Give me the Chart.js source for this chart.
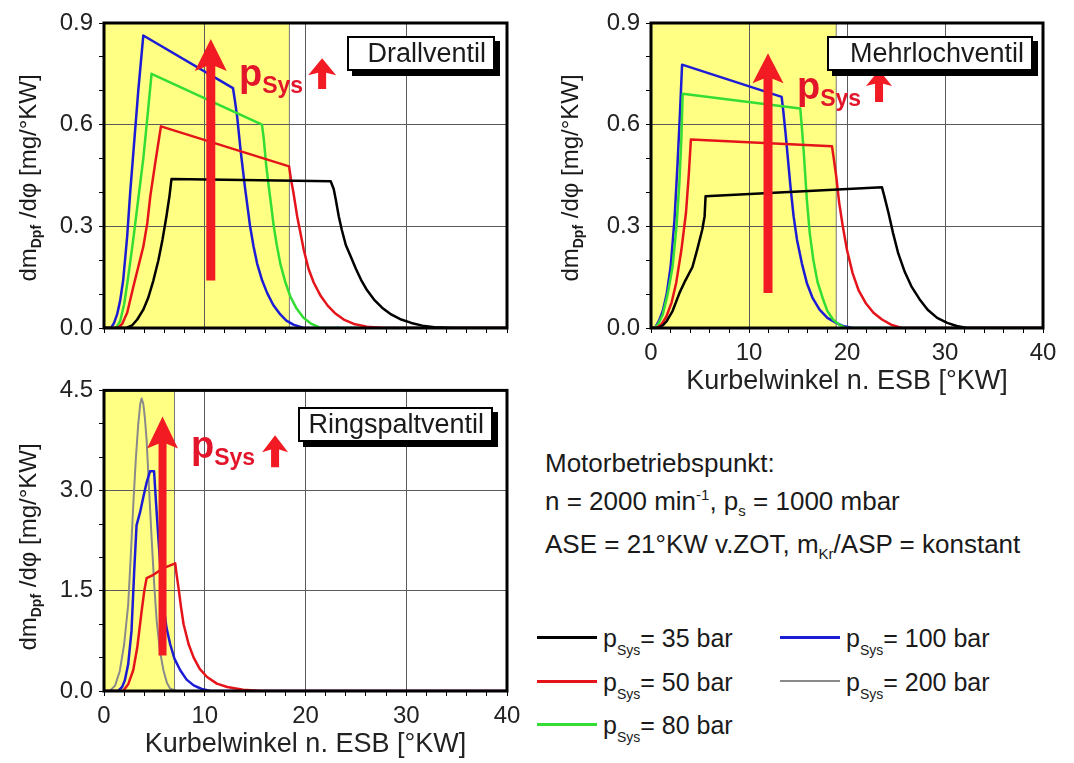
<!DOCTYPE html>
<html>
<head>
<meta charset="utf-8">
<script src="https://cdn.jsdelivr.net/npm/chart.js@4.4.1/dist/chart.umd.min.js"></script>
<style>
  body { margin: 0; background: #fff; font-family: "Liberation Sans", Arial, sans-serif; color: #1a1a1a; }
  #wrap { position: relative; width: 1074px; height: 763px; overflow: hidden; }
  canvas { position: absolute; }
  .ytitle { position: absolute; width: 300px; height: 30px; line-height: 30px; text-align: center;
            font-size: 24px; transform: rotate(-90deg); white-space: nowrap; }
  .ytitle sub { font-size: 14px; font-weight: bold; line-height: 0; vertical-align: -5px; }
  .tag { position: absolute; background: #fff; border: 2px solid #000; box-shadow: 5px 5px 0 #000;
         font-size: 27px; line-height: 31px; text-align: right; padding-right: 7px; box-sizing: border-box; }
  .psys { position: absolute; color: #e3152b; font-weight: bold; font-size: 38px; line-height: 38px; white-space: nowrap; }
  .psys span { font-size: 23px; position: relative; top: 7px; }
  .info { position: absolute; left: 545px; font-size: 26px; line-height: 26px; white-space: nowrap; }
  .info sub, .info sup { font-size: 15px; line-height: 0; }
  .leg { position: absolute; font-size: 25px; line-height: 25px; white-space: nowrap; }
  .leg sub { font-size: 14px; line-height: 0; vertical-align: -8px; }
  .legline { position: absolute; height: 3px; width: 60px; }
</style>
</head>
<body>
<div id="wrap">
  <canvas id="drall" width="530" height="350" style="left:0;top:0"></canvas>
  <canvas id="mehrloch" width="534" height="400" style="left:540px;top:0"></canvas>
  <canvas id="ring" width="530" height="393" style="left:0;top:370px"></canvas>

  <div class="ytitle" style="left:-122px;top:163px">dm<sub>Dpf</sub> /dφ [mg/°KW]</div>
  <div class="ytitle" style="left:420px;top:163px">dm<sub>Dpf</sub> /dφ [mg/°KW]</div>
  <div class="ytitle" style="left:-122px;top:532px">dm<sub>Dpf</sub> /dφ [mg/°KW]</div>

  <div class="tag" style="left:347px;top:36px;width:148px;height:35px">Drallventil</div>
  <div class="tag" style="left:827px;top:36px;width:206px;height:35px">Mehrlochventil</div>
  <div class="tag" style="left:298px;top:407px;width:195px;height:35px">Ringspaltventil</div>

  <div class="psys" style="left:239px;top:54px">p<span>Sys</span></div>
  <div class="psys" style="left:797px;top:67px">p<span>Sys</span></div>
  <div class="psys" style="left:191px;top:426px">p<span>Sys</span></div>

  <div class="info" style="top:450px">Motorbetriebspunkt:</div>
  <div class="info" style="top:488px">n = 2000 min<sup>-1</sup>, p<sub>s</sub> = 1000 mbar</div>
  <div class="info" style="top:531px">ASE = 21°KW v.ZOT, m<sub>Kr</sub>/ASP = konstant</div>

  <div id="legend"></div>
</div>

<script>
// Systemdruck-Stufen und Farben
const pressures = [35, 50, 80, 100, 200];
const pressureColors = ['#000000', '#e5141b', '#33dd33', '#1c1cd6', '#8a8a8a'];

const xTickLabels = [0, 10, 20, 30, 40];
const yTickLabelsSmall = [0, 0.3, 0.6, 0.9];
const yTickLabelsRing = [0, 1.5, 3.0, 4.5];

// Ende der gelben Einspritzphase [°KW]
const drallShade = 18.4;
const mehrlochShade = 18.9;
const ringShade = 7.0;

// Drallventil
const drall35x = [0, 2.2, 2.8, 3.3, 3.9, 4.4, 4.9, 5.4, 5.8, 6.2, 6.5, 6.7, 22.5, 22.8, 23.0, 23.3, 23.6, 24.0, 24.5, 25.0, 25.5, 26.1, 26.8, 27.6, 28.5, 29.5, 30.5, 31.6, 32.8, 34.5, 40];
const drall35y = [0, 0, 0.008, 0.025, 0.054, 0.09, 0.14, 0.2, 0.26, 0.33, 0.39, 0.44, 0.433, 0.41, 0.38, 0.33, 0.29, 0.245, 0.21, 0.175, 0.143, 0.112, 0.084, 0.06, 0.04, 0.025, 0.015, 0.007, 0.002, 0, 0];
const drall50x = [0, 1.4, 1.8, 2.3, 2.9, 3.4, 3.9, 4.3, 4.6, 5.1, 5.65, 18.37, 18.55, 18.8, 19.17, 19.5, 19.83, 20.3, 20.8, 21.5, 22.2, 23.0, 23.8, 24.8, 26.1, 27.8, 40];
const drall50y = [0, 0, 0.012, 0.045, 0.12, 0.18, 0.24, 0.31, 0.39, 0.49, 0.595, 0.477, 0.44, 0.4, 0.33, 0.28, 0.23, 0.175, 0.135, 0.095, 0.066, 0.042, 0.025, 0.012, 0.004, 0, 0];
const drall80x = [0, 1.2, 1.6, 2.0, 2.4, 2.9, 3.4, 3.9, 4.3, 4.72, 15.68, 15.85, 16.1, 16.35, 16.6, 16.85, 17.15, 17.5, 18.0, 18.5, 19.1, 19.8, 20.6, 21.5, 40];
const drall80y = [0, 0, 0.02, 0.07, 0.15, 0.26, 0.38, 0.5, 0.62, 0.75, 0.6, 0.56, 0.48, 0.418, 0.36, 0.3, 0.245, 0.19, 0.135, 0.093, 0.058, 0.03, 0.012, 0, 0];
const drall100x = [0, 0.7, 1.0, 1.3, 1.6, 1.9, 2.3, 2.6, 3.0, 3.4, 3.9, 12.8, 13.0, 13.23, 13.55, 13.98, 14.5, 14.85, 15.2, 15.7, 16.2, 16.8, 17.5, 18.1, 18.8, 19.8, 40];
const drall100y = [0, 0, 0.015, 0.04, 0.08, 0.14, 0.27, 0.4, 0.55, 0.7, 0.863, 0.708, 0.67, 0.62, 0.526, 0.418, 0.3, 0.24, 0.19, 0.14, 0.103, 0.068, 0.04, 0.022, 0.01, 0, 0];

// Mehrlochventil
const mehrloch35x = [0, 0.73, 1.2, 1.6, 2.2, 2.9, 3.5, 4.23, 4.7, 5.23, 5.47, 5.57, 23.57, 23.8, 24.23, 24.7, 25.23, 25.9, 26.57, 27.4, 28.23, 29.2, 30.23, 31.2, 32.2, 40];
const mehrloch35y = [0, 0, 0.008, 0.02, 0.05, 0.103, 0.14, 0.18, 0.23, 0.29, 0.33, 0.389, 0.415, 0.39, 0.34, 0.28, 0.22, 0.165, 0.123, 0.085, 0.054, 0.03, 0.015, 0.006, 0, 0];
const mehrloch50x = [0, 0.57, 1.1, 1.57, 2.1, 2.57, 3.1, 3.57, 3.85, 4.07, 18.47, 18.65, 18.9, 19.2, 19.57, 20.0, 20.57, 21.2, 21.9, 22.7, 23.57, 24.5, 25.57, 40];
const mehrloch50y = [0, 0, 0.012, 0.034, 0.075, 0.133, 0.23, 0.34, 0.45, 0.556, 0.536, 0.5, 0.448, 0.37, 0.3, 0.23, 0.162, 0.11, 0.074, 0.045, 0.025, 0.01, 0, 0];
const mehrloch80x = [0, 0.4, 0.8, 1.2, 1.7, 2.2, 2.6, 2.9, 3.1, 3.23, 15.23, 15.4, 15.57, 15.9, 16.2, 16.57, 17.0, 17.57, 18.0, 18.57, 19.2, 19.9, 40];
const mehrloch80y = [0, 0, 0.015, 0.04, 0.1, 0.18, 0.3, 0.43, 0.56, 0.691, 0.648, 0.59, 0.526, 0.38, 0.28, 0.2, 0.135, 0.084, 0.05, 0.025, 0.01, 0, 0];
const mehrloch100x = [0, 0.4, 0.8, 1.2, 1.6, 2.0, 2.4, 2.7, 2.95, 3.17, 13.33, 13.5, 13.73, 14.0, 14.23, 14.55, 14.9, 15.4, 15.9, 16.5, 17.2, 18.0, 18.9, 19.7, 20.6, 40];
const mehrloch100y = [0, 0, 0.02, 0.05, 0.1, 0.18, 0.32, 0.48, 0.63, 0.777, 0.682, 0.64, 0.575, 0.49, 0.418, 0.33, 0.26, 0.19, 0.133, 0.088, 0.054, 0.03, 0.015, 0.005, 0, 0];

// Ringspaltventil
const ring50x = [0, 1.9, 2.4, 2.9, 3.3, 3.73, 4.0, 4.23, 4.9, 5.9, 7.07, 7.2, 7.4, 7.65, 7.9, 8.4, 8.9, 9.5, 10.23, 11.2, 12.23, 13.8, 15.57, 40];
const ring50y = [0, 0, 0.1, 0.31, 0.65, 1.19, 1.5, 1.69, 1.74, 1.84, 1.91, 1.75, 1.54, 1.25, 1.0, 0.7, 0.5, 0.33, 0.21, 0.11, 0.06, 0.02, 0, 0];
const ring100x = [0, 1.4, 1.8, 2.07, 2.4, 2.73, 3.0, 3.23, 3.57, 3.9, 4.23, 4.57, 4.97, 5.15, 5.4, 5.65, 5.9, 6.2, 6.57, 7.0, 7.57, 8.2, 8.9, 9.7, 10.57, 40];
const ring100y = [0, 0, 0.06, 0.16, 0.4, 0.9, 1.8, 2.48, 2.67, 2.9, 3.12, 3.29, 3.29, 2.85, 2.28, 1.75, 1.29, 0.95, 0.7, 0.48, 0.31, 0.17, 0.084, 0.03, 0, 0];
const ring200x = [0, 0.57, 1.1, 1.57, 2.0, 2.4, 2.65, 2.9, 3.15, 3.4, 3.6, 3.73, 3.9, 4.05, 4.23, 4.48, 4.73, 4.98, 5.23, 5.55, 5.9, 6.25, 6.57, 7.23, 40];
const ring200y = [0, 0, 0.08, 0.3, 0.7, 1.29, 2.0, 2.77, 3.45, 4.0, 4.3, 4.38, 4.3, 4.1, 3.76, 3.0, 2.28, 1.6, 1.05, 0.6, 0.31, 0.12, 0.035, 0, 0];

Chart.defaults.font.family = '"Liberation Sans", Arial, sans-serif';

function drawArrow(ctx, x, yBase, yTip, shaft, headW, headL) {
  ctx.save();
  ctx.fillStyle = '#f21b23';
  ctx.beginPath();
  ctx.moveTo(x - shaft / 2, yBase);
  ctx.lineTo(x - shaft / 2, yTip + headL * 0.85);
  ctx.lineTo(x - headW / 2, yTip + headL);
  ctx.lineTo(x, yTip);
  ctx.lineTo(x + headW / 2, yTip + headL);
  ctx.lineTo(x + shaft / 2, yTip + headL * 0.85);
  ctx.lineTo(x + shaft / 2, yBase);
  ctx.closePath();
  ctx.fill();
  ctx.restore();
}

// gelbe Fläche, Pfeile und Rahmen
const panelDeco = {
  id: 'panelDeco',
  beforeDraw(chart, args, opts) {
    const { ctx, chartArea: a, scales: { x } } = chart;
    const xe = x.getPixelForValue(opts.shadeTo);
    ctx.save();
    ctx.fillStyle = '#ffff84';
    ctx.fillRect(a.left, a.top, xe - a.left, a.bottom - a.top);
    ctx.strokeStyle = '#777';
    ctx.lineWidth = 1;
    ctx.beginPath();
    ctx.moveTo(xe, a.top);
    ctx.lineTo(xe, a.bottom);
    ctx.stroke();
    ctx.restore();
  },
  afterDatasetsDraw(chart, args, opts) {
    const { ctx, chartArea: a, scales: { x, y } } = chart;
    (opts.arrows || []).forEach(ar => {
      drawArrow(ctx, x.getPixelForValue(ar.x), y.getPixelForValue(ar.from), y.getPixelForValue(ar.to), ar.shaft, ar.headW, ar.headL);
    });
    ctx.save();
    ctx.strokeStyle = '#000';
    ctx.lineWidth = 3;
    ctx.strokeRect(a.left, a.top, a.right - a.left, a.bottom - a.top);
    ctx.restore();
  }
};

function series(xs, ys, idx) {
  return {
    label: 'pSys = ' + pressures[idx] + ' bar',
    data: xs.map((v, i) => ({ x: v, y: ys[i] })),
    borderColor: pressureColors[idx],
    borderWidth: idx === 4 ? 2 : 2.5,
    borderJoinStyle: 'round',
    pointRadius: 0,
    fill: false,
    tension: 0
  };
}

function makePanel(id, o) {
  const isLabel = v => o.yLabels.some(t => Math.abs(t - v) < 1e-6);
  return new Chart(document.getElementById(id), {
    type: 'line',
    data: { datasets: o.datasets },
    options: {
      responsive: false,
      animation: false,
      layout: { padding: o.pad },
      plugins: {
        legend: { display: false },
        tooltip: { enabled: false },
        panelDeco: { shadeTo: o.shadeTo, arrows: o.arrows }
      },
      scales: {
        x: {
          type: 'linear', min: 0, max: 40,
          afterFit: s => { s.height = o.xHeight; },
          border: { display: false },
          grid: {
            color: c => (c.tick && c.tick.value % 10 === 0) ? '#5a5a5a' : 'rgba(0,0,0,0)',
            tickColor: '#000', tickLength: 5, lineWidth: 1
          },
          ticks: {
            stepSize: 2, autoSkip: false, maxRotation: 0, padding: 6, color: '#222',
            font: { size: 24 },
            callback: v => (o.xLabels && xTickLabels.includes(v)) ? String(v) : ''
          },
          title: {
            display: o.xLabels, text: 'Kurbelwinkel n. ESB [°KW]', color: '#222',
            font: { size: 27 }, padding: { top: 0, bottom: 2 }
          }
        },
        y: {
          type: 'linear', min: 0, max: o.yMax,
          afterFit: s => { s.width = o.yWidth; },
          border: { display: false },
          grid: {
            color: c => (c.tick && isLabel(c.tick.value)) ? '#5a5a5a' : 'rgba(0,0,0,0)',
            tickColor: '#000', tickLength: 5, lineWidth: 1
          },
          ticks: {
            stepSize: o.yStep, autoSkip: false, padding: 6, color: '#222',
            font: { size: 24 },
            callback: v => isLabel(v) ? v.toFixed(1) : ''
          }
        }
      }
    },
    plugins: [panelDeco]
  });
}

makePanel('drall', {
  datasets: [series(drall35x, drall35y, 0), series(drall50x, drall50y, 1), series(drall80x, drall80y, 2), series(drall100x, drall100y, 3)],
  pad: { top: 23, right: 23, left: 0, bottom: 0 }, yWidth: 104, xHeight: 22, xLabels: false,
  yMax: 0.9, yStep: 0.1, yLabels: yTickLabelsSmall, shadeTo: drallShade,
  arrows: [
    { x: 10.6, from: 0.14, to: 0.853, shaft: 9, headW: 32, headL: 32 },
    { x: 21.65, from: 0.705, to: 0.796, shaft: 8, headW: 28, headL: 17 }
  ]
});

makePanel('mehrloch', {
  datasets: [series(mehrloch35x, mehrloch35y, 0), series(mehrloch50x, mehrloch50y, 1), series(mehrloch80x, mehrloch80y, 2), series(mehrloch100x, mehrloch100y, 3)],
  pad: { top: 23, right: 31, left: 0, bottom: 0 }, yWidth: 111, xHeight: 72, xLabels: true,
  yMax: 0.9, yStep: 0.1, yLabels: yTickLabelsSmall, shadeTo: mehrlochShade,
  arrows: [
    { x: 11.94, from: 0.103, to: 0.811, shaft: 9, headW: 31, headL: 30 },
    { x: 23.27, from: 0.667, to: 0.761, shaft: 8, headW: 26, headL: 16 }
  ]
});

makePanel('ring', {
  datasets: [series(ring50x, ring50y, 1), series(ring100x, ring100y, 3), series(ring200x, ring200y, 4)],
  pad: { top: 17, right: 23, left: 0, bottom: 0 }, yWidth: 104, xHeight: 72, xLabels: true,
  yMax: 4.5, yStep: 0.5, yLabels: yTickLabelsRing, shadeTo: ringShade,
  arrows: [
    { x: 5.81, from: 0.53, to: 4.11, shaft: 8, headW: 31, headL: 32 },
    { x: 16.98, from: 3.35, to: 3.83, shaft: 8, headW: 26, headL: 17 }
  ]
});

// gemeinsame Legende
const legendSlots = [[537, 637], [537, 681], [537, 724], [780, 637], [780, 681]];
const legend = document.getElementById('legend');
pressures.forEach((p, i) => {
  const [lx, ly] = legendSlots[i];
  const line = document.createElement('div');
  line.className = 'legline';
  line.style.left = lx + 'px';
  line.style.top = (ly - 1) + 'px';
  line.style.background = pressureColors[i];
  if (i === 4) line.style.height = '2px';
  legend.appendChild(line);
  const txt = document.createElement('div');
  txt.className = 'leg';
  txt.style.left = (lx + 66) + 'px';
  txt.style.top = (ly - 11) + 'px';
  txt.innerHTML = 'p<sub>Sys</sub>= ' + p + ' bar';
  legend.appendChild(txt);
});
</script>
</body>
</html>
